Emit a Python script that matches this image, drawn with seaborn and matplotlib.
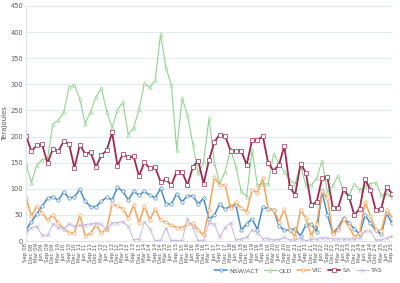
import matplotlib
matplotlib.use("Agg")
import matplotlib.pyplot as plt
import pandas as pd
import seaborn as sns

sns.set_theme(style="white")
plt.rcParams["font.family"] = ["DejaVu Sans"]

# quarterly labels, Sep 08 .. Sep 25
MONTHS = ["Mar", "Jun", "Sep", "Dec"]
QUARTERS = [f"{MONTHS[q % 4]} {8 + q // 4:02d}" for q in range(2, 71)]

NSW_ACT = [22, 37, 52, 67, 82, 85, 78, 94, 82, 85, 99, 76, 66, 66, 76, 84, 79, 103, 95, 79, 95, 88,
           95, 88, 83, 101, 71, 71, 91, 75, 87, 86, 71, 82, 42, 50, 71, 61, 67, 69, 21, 33, 43, 22, 66,
           62, 60, 29, 21, 21, 24, 10, 31, 33, 18, 95, 50, 15, 26, 45, 34, 24, 13, 50, 34, 21, 13, 53, 34]
QLD = [147, 112, 146, 156, 158, 224, 231, 247, 294, 299, 272, 225, 248, 276, 293, 248, 217, 251, 266, 204, 217, 252,
       302, 294, 308, 396, 332, 299, 175, 273, 242, 185, 130, 152, 235, 150, 110, 133, 176, 142, 95, 85, 174, 107, 110,
       109, 167, 149, 133, 117, 110, 144, 107, 107, 120, 154, 93, 107, 125, 95, 88, 109, 98, 105, 110, 112, 88, 91, 85]
VIC = [83, 48, 67, 54, 40, 50, 34, 24, 16, 16, 50, 10, 15, 31, 15, 24, 71, 67, 62, 44, 69, 34,
       68, 40, 62, 40, 36, 30, 26, 26, 32, 34, 21, 11, 60, 123, 107, 107, 63, 75, 63, 56, 98, 93, 120,
       61, 59, 37, 61, 22, 8, 59, 45, 10, 33, 95, 82, 13, 21, 42, 28, 8, 15, 75, 48, 21, 20, 59, 45]
SA = [202, 172, 183, 185, 149, 177, 172, 191, 186, 140, 184, 167, 170, 142, 164, 174, 208, 144, 167, 160, 162, 124,
      151, 139, 141, 114, 118, 107, 133, 133, 107, 142, 154, 110, 155, 190, 204, 201, 173, 173, 172, 146, 193, 193, 201,
      149, 135, 146, 182, 104, 88, 148, 131, 69, 75, 120, 122, 64, 64, 99, 85, 50, 62, 118, 98, 59, 62, 103, 91]
TAS = [18, 26, 28, 11, 11, 33, 26, 24, 33, 28, 30, 31, 33, 34, 32, 22, 35, 35, 37, 28, 3, 3,
       37, 24, 1, 1, 25, 1, 1, 1, 43, 27, 1, 1, 35, 32, 8, 26, 35, 2, 4, 7, 21, 16, 5,
       5, 2, 3, 7, 2, 2, 5, 1, 3, 4, 6, 6, 4, 4, 4, 4, 4, 6, 20, 19, 2, 2, 6, 9]

SERIES = [
    ("NSW/ACT", NSW_ACT, "#4a8bc9", "o", 1.1),
    ("QLD", QLD, "#93d191", "^", 0.8),
    ("VIC", VIC, "#f9a35b", "o", 1.1),
    ("SA", SA, "#9c2b4e", "s", 1.3),
    ("TAS", TAS, "#c3b8dd", "x", 0.7),
]

if __name__ == "__main__":
    fig, ax = plt.subplots(figsize=(4, 2.83), dpi=100)
    fig.subplots_adjust(left=0.065, right=0.98, top=0.979, bottom=0.148)

    for name, vals, color, marker, lw in SERIES:
        df = pd.DataFrame({"q": range(len(vals)), "tj": vals})
        sns.lineplot(x="q", y="tj", data=df, ax=ax, color=color, linewidth=lw,
                     marker=marker, markersize=2.4, markeredgewidth=0.5,
                     markerfacecolor="white" if marker != "x" else color,
                     markeredgecolor=color, label=name, legend=False)

    ax.set_xlim(0, len(QUARTERS) - 1)
    ax.set_ylim(0, 450)
    ax.set_yticks(range(0, 451, 50))
    ax.set_xticks(range(len(QUARTERS)))
    ax.set_xticklabels(QUARTERS, rotation=90, fontsize=4, color="#595959")
    ax.tick_params(axis="y", labelsize=4.8, labelcolor="#595959", length=0, pad=2)
    ax.tick_params(axis="x", length=0, pad=1.5)
    ax.set_xlabel("")
    ax.set_ylabel("Terajoules", fontsize=5, color="#595959", labelpad=2)
    ax.grid(axis="y", color="#dce6f2", linewidth=0.6)
    for side in ["top", "right"]:
        ax.spines[side].set_visible(False)
    for side in ["left", "bottom"]:
        ax.spines[side].set_color("#d6dde8")
        ax.spines[side].set_linewidth(0.6)

    handles, labels = ax.get_legend_handles_labels()
    fig.legend(handles, labels, loc="center right", bbox_to_anchor=(0.97, 0.045),
               ncol=5, fontsize=4.6, frameon=False, handlelength=2.0,
               columnspacing=0.8, handletextpad=0.3, labelcolor="#595959")

    plt.savefig("out.png", dpi=100)
